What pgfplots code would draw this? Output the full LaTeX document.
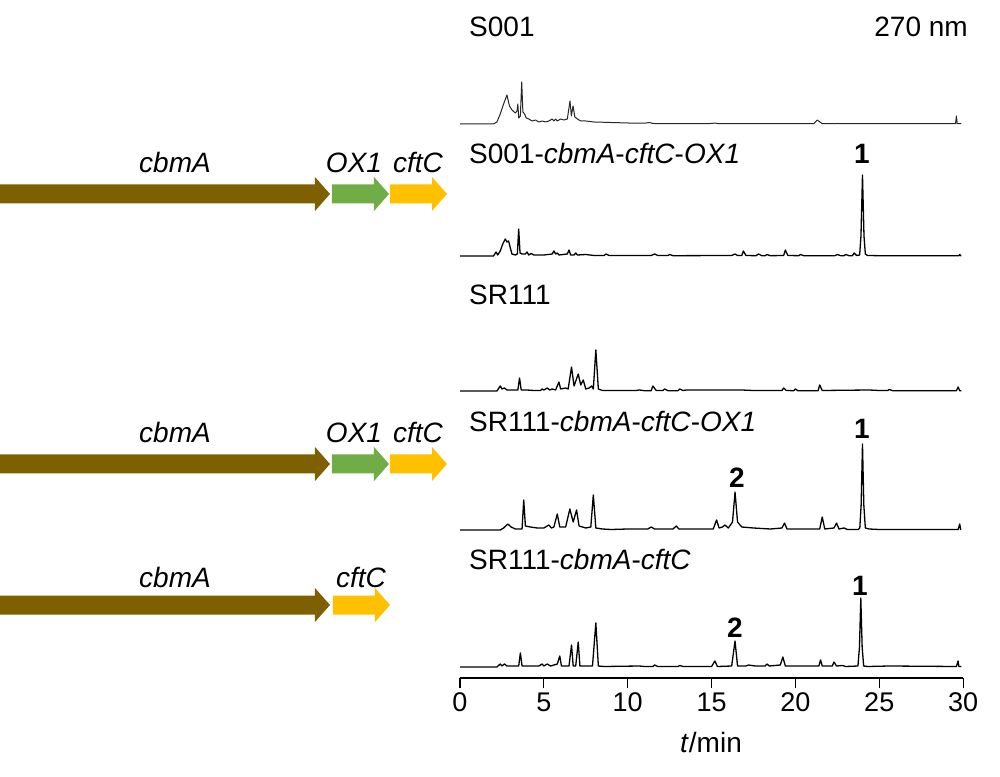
\documentclass[border=0pt]{standalone}
\usepackage{fontspec}
\setmainfont{Liberation Sans}
\usepackage{pgfplots}
\usepackage{pgfplotstable}
\pgfplotsset{compat=1.18}
\definecolor{cbm}{HTML}{7F6000}
\definecolor{oxg}{HTML}{70AD47}
\definecolor{cft}{HTML}{FFC000}

% S001
\pgfplotstableread{
t h
0 0
2.0 0
2.2 2
2.4 10
2.6 20
2.8 29
2.95 18
3.1 14
3.3 11
3.4 13
3.45 20
3.5 6
3.6 8
3.68 42
3.75 12
3.85 10
3.95 6
4.1 5
4.3 3
4.5 4
4.7 2
4.9 3
5.1 2
5.3 3
5.5 5
5.6 3
5.7 5
5.8 3
6.0 5
6.2 4
6.4 5
6.56 23
6.64 8
6.74 18
6.85 7
7.0 5
7.2 3
7.5 3
8.0 2
9 1.5
10 1
11 0.8
11.3 1.5
11.5 0.5
13 0.3
15 0.5
15.2 1
15.4 0.3
21.1 0.3
21.3 4
21.6 0.3
22.5 0.5
23 0.3
29.55 0.3
29.6 8
29.65 0.5
29.9 0.3
}\tA

% S001-cbmA-cftC-OX1
\pgfplotstableread{
t h
0 0
2.0 0
2.15 4
2.25 1
2.4 5
2.55 12
2.7 17
2.8 14
2.9 15
3.0 8
3.1 2
3.3 1
3.42 2
3.5 27
3.58 3
3.7 2
3.9 2
4.0 4
4.1 1
4.25 2.5
4.4 1
5.0 1
5.5 2
5.6 5
5.7 2
5.8 3
5.9 1
6.4 2
6.5 6
6.6 1
6.8 1
6.9 3
7.0 1
7.5 1.5
8.0 0.5
8.6 0.5
8.7 2
8.9 0.5
11.4 0.5
11.6 2
11.8 0.5
12.4 0.5
12.5 1.5
12.7 0.3
16.2 0.5
16.4 2
16.55 0.5
16.8 0.5
16.9 5
17.05 0.5
17.65 0.3
17.8 2
18.0 0.3
18.2 0.3
18.3 1.5
18.5 0.3
19.3 0.5
19.4 6
19.55 0.5
20.2 0.3
20.3 1.5
20.5 0.3
22.35 0.3
22.5 1.5
22.7 0.3
22.9 0.3
23.0 1.5
23.2 0.3
23.4 0.3
23.5 3
23.65 0.5
23.83 1
23.91 20
24.0 81
24.09 20
24.17 2
24.3 0.5
25 0.3
29.75 0.3
29.8 1.5
29.85 0.3
29.9 0.3
}\tB

% SR111
\pgfplotstableread{
t h
0 0
2.2 0
2.4 5
2.5 2
2.65 3
2.8 1
3.45 1
3.55 13
3.65 1
4.0 1
4.4 0.5
4.8 0.5
4.9 2
5.0 1
5.2 3
5.35 1
5.5 2
5.7 1
5.9 9
6.0 2
6.3 3
6.45 2
6.65 24
6.8 5
7.05 17
7.2 6
7.35 11
7.5 2
7.7 3
7.85 5
7.95 2
8.1 41
8.25 2
8.5 0.5
10.5 0.5
10.7 1
11.0 0.3
11.4 0.3
11.5 5
11.7 0.5
12.1 0.5
12.2 2
12.4 0.3
13.0 0.3
13.1 2
13.3 0.5
13.5 1
14.5 1
15.5 1
16.8 1
17.5 0.5
19.2 0.5
19.3 3
19.45 0.5
19.9 0.3
20.0 2
20.15 0.3
21.35 0.3
21.45 6
21.6 0.5
24.4 1
25.0 0.5
25.5 0.5
25.6 1.5
25.8 0.3
29.6 0.3
29.7 4
29.8 0.3
29.9 0.3
}\tC

% SR111-cbmA-cftC-OX1
\pgfplotstableread{
t h
0 0
2.4 0
2.6 2
2.85 6
3.05 3
3.3 1
3.7 1
3.8 30
3.9 4
4.2 3
4.6 2
5.0 2
5.2 4
5.3 5
5.45 2
5.6 3
5.8 16
5.95 3
6.3 3
6.55 21
6.75 8
6.95 20
7.1 4
7.5 2
7.8 3
7.95 35
8.1 2
8.5 1
9 0.5
10 1
11.2 1
11.4 3
11.6 1
12.7 1
12.9 4
13.05 1
14.0 1
15.1 1
15.3 10
15.45 2
15.65 3
15.8 5
16.0 2
16.25 8
16.4 38
16.55 8
16.8 3
17.5 2
18.5 1
19.2 2
19.35 7
19.5 1
20.5 1
21.45 1
21.6 13
21.75 1
22.3 2
22.45 7
22.6 1
22.9 2
23.1 0.5
23.75 0.5
23.84 2
23.92 25
24.0 86
24.08 25
24.17 2
24.4 1
25 0.5
29.7 0.5
29.8 6
29.85 0.5
29.9 0.5
}\tD

% SR111-cbmA-cftC
\pgfplotstableread{
t h
0 0
2.2 0
2.4 3
2.5 1
2.65 3
2.8 1
3.5 1
3.6 14
3.7 1
4.7 1
4.9 3
5.0 1
5.2 3
5.4 1
5.6 2
5.8 3
5.95 11
6.05 1
6.5 1
6.65 22
6.75 1
6.9 1
7.05 25
7.15 1
7.9 1
8.1 44
8.25 1
8.6 0.5
10.7 1
11.0 0.5
11.5 0.5
11.6 2
11.8 0.5
13.0 0.5
13.1 1.5
13.3 0.5
15.0 0.5
15.2 6
15.35 0.5
16.2 1
16.4 26
16.55 1
17.05 1
17.2 2
17.6 1
18.2 1
18.3 3
18.45 1
19.1 2
19.25 10
19.4 1
20.0 1
21.4 1
21.5 7
21.6 1
22.2 1
22.3 5
22.45 1
22.8 1.5
23.0 0.5
23.73 1
23.82 20
23.9 69
23.98 20
24.07 1
24.3 0.5
25.6 1
29.6 0.5
29.7 6
29.75 0.5
29.9 0.5
}\tE

\newcommand{\genearrow}[4]{%
  \fill[#4] (#1,#3-9.5) -- (#2-15,#3-9.5) -- (#2-15,#3-17) -- (#2,#3)
    -- (#2-15,#3+17) -- (#2-15,#3+9.5) -- (#1,#3+9.5) -- cycle;}

\begin{document}
\begin{tikzpicture}
\begin{axis}[
  anchor=south west, at={(0,0)},
  x=16.77pt, y=1pt,
  xmin=0, xmax=30, ymin=98, ymax=776,
  axis x line=bottom, axis y line=none,
  axis line style={-, line width=1.1pt, black},
  xtick={0,5,...,30},
  tick align=outside,
  major tick length=10pt,
  tick style={line width=1.1pt, black},
  xticklabel style={font=\fontsize{27}{31}\selectfont, yshift=-1pt},
  /pgf/number format/assume math mode=true,
  clip=false,
]
\addplot[black!85, line width=1pt, line join=round] table[x=t, y expr=\thisrow{h}+652] {\tA};
\addplot[black, line width=1.3pt, line join=round] table[x=t, y expr=\thisrow{h}+520] {\tB};
\addplot[black, line width=1.3pt, line join=round] table[x=t, y expr=\thisrow{h}+385] {\tC};
\addplot[black, line width=1.3pt, line join=round] table[x=t, y expr=\thisrow{h}+246] {\tD};
\addplot[black, line width=1.3pt, line join=round] table[x=t, y expr=\thisrow{h}+109] {\tE};
\end{axis}

\begin{scope}[x=1pt, y=-1pt, shift={(-460pt,678pt)},
  every node/.style={inner sep=0pt, font=\fontsize{28}{32}\selectfont}]
  \path (0,0) rectangle (1000,776);
  % sample labels
  \node[anchor=base west] at (469,37) {S001};
  \node[anchor=base east] at (968,37) {270 nm};
  \node[anchor=base west] at (469,164) {S001-\textit{cbmA}-\textit{cftC}-\textit{OX1}};
  \node[anchor=base west] at (469,305) {SR111};
  \node[anchor=base west] at (469,432) {SR111-\textit{cbmA}-\textit{cftC}-\textit{OX1}};
  \node[anchor=base west] at (469,570) {SR111-\textit{cbmA}-\textit{cftC}};
  % peak numbers
  \node[anchor=base] at (862,164) {\textbf{1}};
  \node[anchor=base] at (862,439) {\textbf{1}};
  \node[anchor=base] at (860,595) {\textbf{1}};
  \node[anchor=base] at (737,488) {\textbf{2}};
  \node[anchor=base] at (735,637) {\textbf{2}};
  % x label
  \node[anchor=base] at (711,752) {\textit{t}/min};
  % gene clusters
  \genearrow{0}{330}{194}{cbm}
  \genearrow{332}{389}{194}{oxg}
  \genearrow{390}{447}{194}{cft}
  \genearrow{0}{330}{464}{cbm}
  \genearrow{332}{389}{464}{oxg}
  \genearrow{390}{447}{464}{cft}
  \genearrow{0}{330}{605}{cbm}
  \genearrow{333}{390}{605}{cft}
  \node[anchor=base] at (175,173) {\textit{cbmA}};
  \node[anchor=base] at (354,173) {\textit{OX1}};
  \node[anchor=base] at (418,173) {\textit{cftC}};
  \node[anchor=base] at (175,443) {\textit{cbmA}};
  \node[anchor=base] at (354,443) {\textit{OX1}};
  \node[anchor=base] at (418,443) {\textit{cftC}};
  \node[anchor=base] at (175,587) {\textit{cbmA}};
  \node[anchor=base] at (361,587) {\textit{cftC}};
\end{scope}
\end{tikzpicture}
\end{document}
